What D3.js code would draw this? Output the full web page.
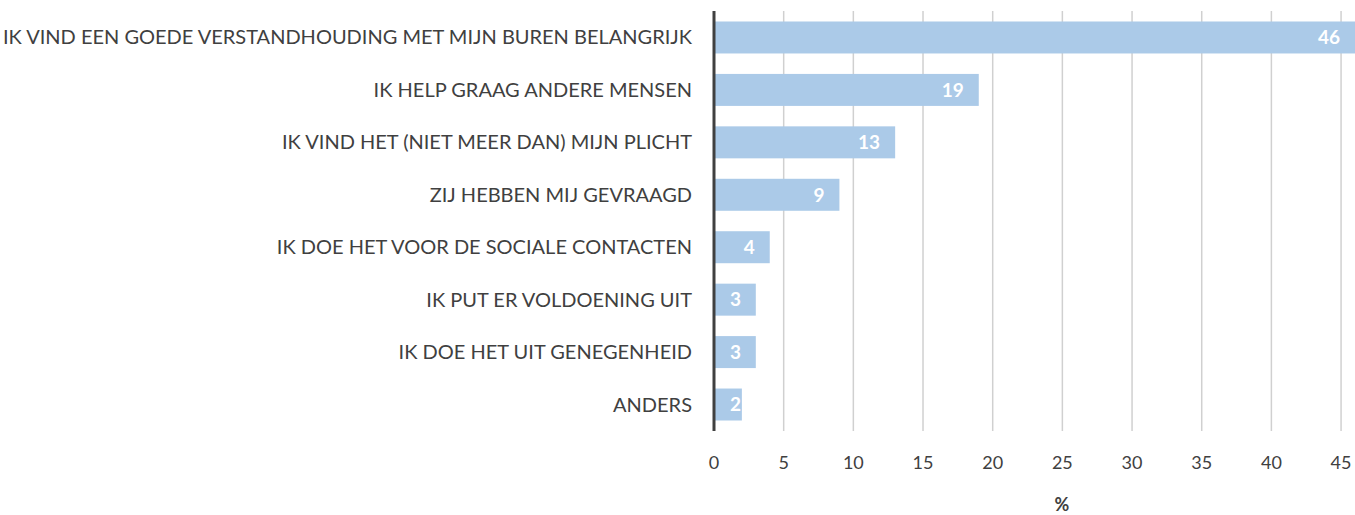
<!DOCTYPE html>
<html><head><meta charset="utf-8">
<script src="https://cdn.jsdelivr.net/npm/d3@7"></script>
<style>body{margin:0;background:#fff}svg{display:block}</style>
</head><body>
<svg id="c" width="1355" height="515"></svg>
<script>
const categories = [
  "IK VIND EEN GOEDE VERSTANDHOUDING MET MIJN BUREN BELANGRIJK",
  "IK HELP GRAAG ANDERE MENSEN",
  "IK VIND HET (NIET MEER DAN) MIJN PLICHT",
  "ZIJ HEBBEN MIJ GEVRAAGD",
  "IK DOE HET VOOR DE SOCIALE CONTACTEN",
  "IK PUT ER VOLDOENING UIT",
  "IK DOE HET UIT GENEGENHEID",
  "ANDERS"
];
const values = [46, 19, 13, 9, 4, 3, 3, 2];
const ticks = [0, 5, 10, 15, 20, 25, 30, 35, 40, 45];
const axisTitle = "%";

(function () {
const font = "Lato, 'Open Sans', sans-serif";
const svg = d3.select("#c");
const pLeft = 714, pRight = 1355, pTop = 11, pBottom = 431;
const x = d3.scaleLinear().domain([0, 46]).range([pLeft, pRight]);
const y = d3.scaleBand().domain(categories).range([pTop, pBottom]).paddingInner(0.39).paddingOuter(0.2);

// gridlines
svg.append("g").selectAll("line").data(ticks.filter(t => t > 0)).join("line")
  .attr("x1", d => x(d)).attr("x2", d => x(d)).attr("y1", pTop).attr("y2", pBottom)
  .attr("stroke", "#d0d0d0").attr("stroke-width", 1.5);

// bars
svg.append("g").selectAll("rect").data(values).join("rect")
  .attr("x", x(0)).attr("y", (d, i) => y(categories[i]))
  .attr("width", d => x(d) - x(0)).attr("height", y.bandwidth())
  .attr("fill", "#abcae8");

// axis line
svg.append("line").attr("x1", pLeft).attr("x2", pLeft).attr("y1", pTop).attr("y2", pBottom)
  .attr("stroke", "#404040").attr("stroke-width", 3);

// category labels
svg.append("g").selectAll("text").data(categories).join("text")
  .attr("x", 692).attr("y", d => y(d) + y.bandwidth() / 2).attr("dy", "0.35em")
  .attr("text-anchor", "end").attr("font-family", font).attr("font-size", 20)
  .attr("fill", "#404040").text(d => d);

// value labels
svg.append("g").selectAll("text").data(values).join("text")
  .attr("y", (d, i) => y(categories[i]) + y.bandwidth() / 2).attr("dy", "0.36em")
  .attr("text-anchor", "end").attr("font-family", font).attr("font-size", 19)
  .attr("font-weight", "bold").attr("fill", "#fff").text(d => d)
  .each(function(d) {
    const w = this.getComputedTextLength();
    d3.select(this).attr("x", Math.max(x(d) - 15, x(0) + 16 + w));
  });

// tick labels
svg.append("g").selectAll("text").data(ticks).join("text")
  .attr("x", d => x(d)).attr("y", 463).attr("dy", "0.35em").attr("text-anchor", "middle")
  .attr("font-family", font).attr("font-size", 18).attr("fill", "#404040").text(d => d);

svg.append("text").attr("x", 1062).attr("y", 505).attr("dy", "0.35em").attr("text-anchor", "middle")
  .attr("font-family", font).attr("font-size", 18).attr("font-weight", "bold").attr("fill", "#404040")
  .text(axisTitle);
})();
</script>
</body></html>
